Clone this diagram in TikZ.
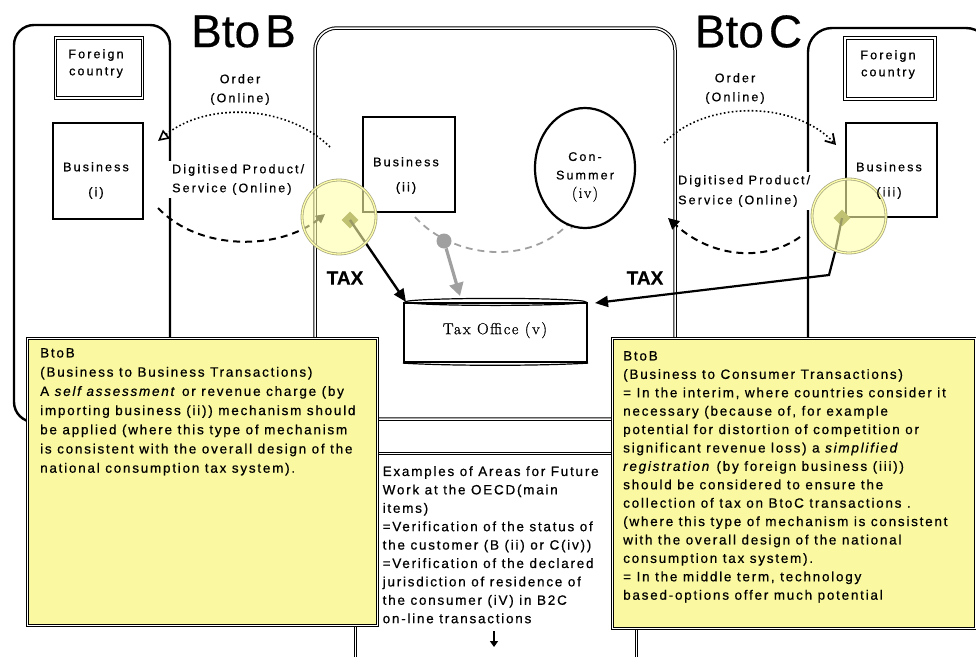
\documentclass[tikz,border=0pt]{standalone}
\usepackage{fontspec}
\newfontfamily\ls[LetterSpace=17,FakeBold=0.6]{Liberation Sans}
\newfontfamily\lsy[LetterSpace=13,FakeBold=0.6]{Liberation Sans}
\newfontfamily\ttl[FakeBold=0.4]{Liberation Sans}
\newfontfamily\srf[LetterSpace=10,FakeBold=0.8]{Latin Modern Roman}
\usetikzlibrary{arrows.meta,shapes.geometric}
\definecolor{yelbox}{RGB}{250,248,160}
\definecolor{yelcirc}{RGB}{255,255,170}
\definecolor{olivedot}{RGB}{100,100,30}
\definecolor{grayarr}{RGB}{160,160,160}
\begin{document}
\begin{tikzpicture}[x=1pt,y=-1pt,
  frame/.style={draw, line width=2.4pt, rounded corners=20pt},
  dframe/.style={draw, line width=1pt, double, double distance=1.5pt, rounded corners=22pt},
  bizbox/.style={draw, line width=2.2pt, fill=white, inner sep=0pt},
  fcbox/.style={draw, line width=0.9pt, double, double distance=1.5pt, fill=white, inner sep=0pt},
  lbl/.style={font={\ls\fontsize{12.5}{19}\selectfont}, inner sep=0pt, align=center},
  lblleft/.style={font={\ls\fontsize{12.5}{19}\selectfont}, align=left, fill=white},
  ytext/.style={font={\lsy\fontsize{13.5}{18.7}\selectfont}, inner sep=0pt, align=left, anchor=north west},
  ybox/.style={draw, line width=0.9pt, double, double distance=1.5pt, fill=yelbox, inner sep=0pt, anchor=north west},
  dotline/.style={line width=1.6pt, dash pattern=on 1.6pt off 2.4pt},
  dashline/.style={line width=2pt, dash pattern=on 7pt off 5pt},
  taxarrow/.style={line width=2.4pt, -{Triangle[length=13pt,width=11pt]}},
  ycircle/.style={circle, minimum size=74pt, inner sep=0pt, fill=yelcirc, fill opacity=0.6, draw=olivedot!55, line width=0.8pt, double=yelcirc, double distance=1.2pt},
  blob/.style={diamond, fill=olivedot, minimum size=17pt, inner sep=0pt},
  taxlbl/.style={font={\ttl\bfseries\fontsize{19}{19}\selectfont}, inner sep=0pt},
  title/.style={font={\ttl\fontsize{46}{46}\selectfont}, inner sep=0pt}
]
\useasboundingbox (0,0) rectangle (976,656);
\fill[white] (0,0) rectangle (976,656);
\clip (0,0) rectangle (976,656);

% frames
\draw[frame] (14,25) rectangle (170,422);
\draw[dframe] (315,28) rectangle (675,419);
\draw[frame, rounded corners=24pt] (808,28) rectangle (990,420);

% examples box (below)
\node[draw, line width=0.9pt, double, double distance=1.5pt, fill=white, inner sep=0pt, anchor=north west,
      minimum width=281pt, minimum height=260pt] (ex) at (355,453) {};

% titles
\node[title] (tbb) at (243.5,31.5) {Bto\kern5pt B};
\node[title] (tbc) at (748.5,31.5) {Bto\kern5pt C};

% coordinates for curves
\coordinate (o1s) at (330,147);
\coordinate (o1e) at (158,141);
\coordinate (p1s) at (158,208);
\coordinate (p1e) at (325,214);
\coordinate (o2s) at (664,143);
\coordinate (o2e) at (836,145);
\coordinate (p2s) at (800,237);
\coordinate (p2e) at (668,218);
\coordinate (g1s) at (415,217);
\coordinate (g1e) at (574,218);
\coordinate (gtip) at (460,296);
\coordinate (t1tip) at (406,302);
\coordinate (tb1) at (835,252);
\coordinate (tb2) at (829,275);
\coordinate (t2tip) at (595,303);

% order / product curves
\draw[dotline, -{Triangle[open,length=11pt,width=11pt,line width=1.6pt]}] (o1s) .. controls (285,103) and (205,103) .. (o1e);
\draw[dashline, -{Triangle[length=9pt,width=9pt]}] (p1s) .. controls (200,252) and (280,250) .. (p1e);
\draw[dotline, -{Straight Barb[length=9pt,width=11pt,line width=1.8pt]}] (o2s) .. controls (705,100) and (795,100) .. (o2e);
\draw[dashline, -{Triangle[length=11pt,width=11pt]}] (p2s) .. controls (765,262) and (712,258) .. (p2e);
\draw[grayarr, dashline, line width=1.8pt, -{Straight Barb[length=8pt,width=10pt]}] (g1s) .. controls (452,258) and (530,268) .. (g1e);

% labels
\node[lbl, anchor=north] (ord1) at (240,74) {Order\\(Online)};
\node[lbl, anchor=north] (ord2) at (735,73) {Order\\(Online)};
\node[lblleft, inner xsep=4pt, inner ysep=3pt, anchor=north west] (dp1) at (168,161) {Digitised Product/\\Service (Online)};
\node[lblleft, inner xsep=1pt, inner ysep=3pt, anchor=north west, font={\ls\fontsize{12.5}{20}\selectfont}] (dp2) at (677,172) {Digitised Product/\\Service (Online)};

% foreign country boxes
\node[fcbox, minimum width=87pt, minimum height=60pt] (fc1) at (99,68) {};
\node[lbl, anchor=north, font={\ls\fontsize{12.5}{17}\selectfont}] (fc1t) at (96,49) {Foreign\\country};
\node[fcbox, minimum width=90pt, minimum height=61pt] (fc2) at (890,68.5) {};
\node[lbl, anchor=north, font={\ls\fontsize{12.5}{17}\selectfont}] (fc2t) at (888,50) {Foreign\\country};

% business boxes
\node[bizbox, minimum width=90pt, minimum height=96pt] (bi) at (98,171) {};
\node[bizbox, minimum width=92pt, minimum height=95pt] (bii) at (409,164.5) {};
\node[bizbox, minimum width=91pt, minimum height=94pt] (biii) at (891.5,170) {};

% consumer
\node[ellipse, draw, line width=2.2pt, fill=white, minimum width=100pt, minimum height=120pt] (con) at (585,168) {};
\node[lbl, anchor=north, font={\ls\fontsize{12.5}{18.5}\selectfont}] (cont) at (585,152) {Con-\\Summer\\{\srf\fontsize{15}{18.5}\selectfont (iv)}};

% tax office
\node[draw, line width=2.2pt, fill=white, minimum width=183pt, minimum height=59pt, inner sep=0pt] (tax) at (495.5,332.5) {};
\draw[line width=1.2pt] (tax.north) ellipse [x radius=90, y radius=3.5];
\draw[line width=1.2pt] (tax.south west) .. controls (450,366) and (540,366) .. (tax.south east);
\node[inner sep=0pt, anchor=north, font={\srf\fontsize{16}{16}\selectfont}] (taxt) at (495,322) {Tax Office (v)};

% gray flow to tax office
\node[circle, fill=grayarr, minimum size=15pt, inner sep=0pt] (gd) at (444,241) {};
\draw[grayarr, line width=3.2pt, -{Triangle[length=13pt,width=14pt]}] (gd) -- (gtip);

% tax flows
\node[blob] (dm1) at (350,220) {};
\node[blob] (dm2) at (842,218) {};
\draw[taxarrow] (dm1.center) -- (t1tip);
\draw[taxarrow, line width=2.2pt] (dm2.center) -- (tb1) -- (tb2) -- (t2tip);

% yellow circles
\node[ycircle] (c1) at (339,217) {};
\node[ycircle] (c2) at (849,216) {};

% business texts (above circles)
\node[lbl, anchor=north] (bit) at (96,162) {Business\\[6pt](i)};
\node[lbl, anchor=north] (biit) at (406,157) {Business\\[6pt](ii)};
\node[lbl, anchor=north] (biiit) at (889,162) {Business\\[6pt](iii)};

% TAX labels
\node[taxlbl] (tax1) at (345,278) {TAX};
\node[taxlbl] (tax2) at (645,278) {TAX};

% yellow boxes
\node[ybox, minimum width=350pt, minimum height=287pt] (yb1) at (27,338) {};
\node[ytext, font={\lsy\fontsize{13.5}{19.2}\selectfont}] (yt1) at (40,348) {BtoB\\(Business to Business Transactions)\\A \textit{self assessment} or revenue charge (by\\importing business (ii)) mechanism should\\be applied (where this type of mechanism\\is consistent with the overall design of the\\national consumption tax system).};
\node[ybox, minimum width=363pt, minimum height=290pt] (yb2) at (612,338) {};
\node[ytext, font={\lsy\fontsize{13.5}{18.4}\selectfont}] (yt2) at (623,351) {BtoB\\(Business to Consumer Transactions)\\= In the interim, where countries consider it\\necessary (because of, for example\\potential for distortion of competition or\\significant revenue loss) a \textit{simplified}\\\textit{registration} (by foreign business (iii))\\should be considered to ensure the\\collection of tax on BtoC transactions .\\(where this type of mechanism is consistent\\with the overall design of the national\\consumption tax system).\\= In the middle term, technology\\based-options offer much potential};

% examples text
\node[ytext, font={\lsy\fontsize{13.5}{18.4}\selectfont}] (ext) at (382.5,466) {Examples of Areas for Future\\Work at the OECD(main\\items)\\=Verification of the status of\\the customer (B (ii) or C(iv))\\=Verification of the declared\\jurisdiction of residence of\\the consumer (iV) in B2C\\on-line transactions};
\coordinate (da1) at (494,631);
\coordinate (da2) at (494,647);
\draw[line width=2.4pt, -{Triangle[length=6pt,width=8pt]}] (da1) -- (da2);
\end{tikzpicture}
\end{document}
